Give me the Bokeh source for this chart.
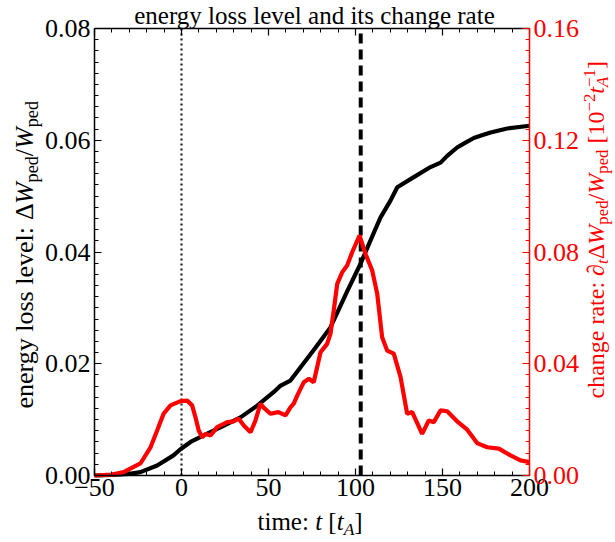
import math
from bokeh.plotting import figure
from bokeh.models import (Range1d, LinearAxis, SingleIntervalTicker,
                          CustomJSTickFormatter, Label)
from bokeh.embed import file_html
from bokeh.resources import INLINE

# ---------------- data ----------------
t_level = [-50, -40, -30, -23.6, -14, -4.6, -0.6, 5.2, 14.8, 24.1, 33.9, 43.5,
           52.9, 57, 62.6, 75.9, 85.6, 95.4, 102.9, 110.3, 114.4, 120.1, 124,
           133.5, 143.1, 148.9, 152.7, 158.4, 162.2, 168, 171.8, 177.6, 187.2, 200]
level = [0.0, 0.0001, 0.0003, 0.0006, 0.0018, 0.0036, 0.0047, 0.0060, 0.0075,
         0.0089, 0.0104, 0.0125, 0.0149, 0.0161, 0.0170, 0.0224, 0.0265, 0.0331,
         0.0379, 0.0433, 0.0462, 0.0492, 0.0516, 0.0534, 0.0552, 0.0560, 0.0572,
         0.0587, 0.0594, 0.0604, 0.0608, 0.0614, 0.0621, 0.0626]

t_rate = [-50, -40, -33.3, -23.6, -17.8, -14, -10.3, -6.3, -0.6, 3.3, 6.1, 8,
          9.9, 11.9, 13.8, 16.7, 20.5, 26.3, 30.1, 32.8, 35.8, 39.7, 42.5, 45.4,
          47.1, 51.1, 55.7, 59.8, 62.6, 64.5, 66.5, 70.3, 73.2, 76, 79.9, 83.7,
          85.6, 87.5, 89.5, 92.4, 95.2, 98.1, 102.3, 105.7, 109.6, 112.5, 115.3,
          118.2, 122, 125.9, 129.7, 132.6, 138.3, 142.1, 145, 148.9, 152.7,
          158.4, 164.2, 169.9, 175.7, 182.4, 189.1, 194.8, 200]
rate = [0.0, 0.0003, 0.0012, 0.0043, 0.0101, 0.0161, 0.0221, 0.0251, 0.0266,
        0.0268, 0.0251, 0.0209, 0.0161, 0.0137, 0.0149, 0.0143, 0.0173, 0.0191,
        0.0194, 0.0204, 0.0179, 0.0155, 0.0197, 0.0257, 0.0244, 0.0221, 0.0227,
        0.0215, 0.0244, 0.0257, 0.0286, 0.0334, 0.0346, 0.0334, 0.0441, 0.0471,
        0.0507, 0.0591, 0.0686, 0.0728, 0.0752, 0.0799, 0.0859, 0.0794, 0.0734,
        0.0650, 0.0495, 0.0447, 0.0436, 0.0352, 0.0221, 0.0227, 0.0149, 0.0197,
        0.0191, 0.0233, 0.0230, 0.0194, 0.0164, 0.0116, 0.0101, 0.0096, 0.0072,
        0.0054, 0.0048]

t_onset = 0      # dotted vertical marker
t_peak = 103     # dashed vertical marker

x_ticks_interval = 50
left_ticks_interval = 0.02
right_ticks_interval = 0.04

title_text = "energy loss level and its change rate"

# ---------------- layout constants ----------------
W, H = 615, 542
FL, FR, FT, FB = 94, 529, 28, 475          # where the axes box sits (pixels)
X0, X1 = -50, 200
Y0, Y1 = 0.0, 0.08
R0, R1 = 0.0, 0.16
FONT = "'Liberation Serif'"
BASE_FIX = 0.36   # observed baseline drop of Label text, in em


def xd(px):
    return X0 + (px - FL) / (FR - FL) * (X1 - X0)


def yd(py, lo=Y0, hi=Y1):
    return lo + (FB - py) / (FB - FT) * (hi - lo)


# the frame fills the whole canvas; axes are pinned at the box edges
p = figure(width=W, height=H,
           x_range=Range1d(xd(0), xd(W)), y_range=Range1d(yd(H), yd(0)),
           x_axis_type=None, y_axis_type=None,
           output_backend="svg", toolbar_location=None,
           min_border_left=0, min_border_right=0,
           min_border_top=0, min_border_bottom=0)
p.extra_y_ranges = {"rate": Range1d(yd(H, R0, R1), yd(0, R0, R1))}
p.outline_line_color = None

fmt2 = CustomJSTickFormatter(code="return tick.toFixed(2);")
fmtx = CustomJSTickFormatter(
    code="return tick < 0 ? '\\u2212' + Math.abs(tick).toFixed(0) : tick.toFixed(0);")
fmt_empty = CustomJSTickFormatter(code="return '';")


def style_axis(ax, color="black"):
    ax.axis_line_color = color
    ax.axis_line_width = 1.5
    ax.major_tick_line_color = color
    ax.minor_tick_line_color = color
    ax.major_tick_line_width = 1.2
    ax.minor_tick_line_width = 1
    ax.major_tick_in = 7
    ax.major_tick_out = 0
    ax.minor_tick_in = 4
    ax.minor_tick_out = 0
    ax.major_label_text_font = FONT
    ax.major_label_text_font_size = "26px"
    ax.major_label_text_color = color


xb = LinearAxis(fixed_location=Y0, bounds=(X0, X1),
                ticker=SingleIntervalTicker(interval=x_ticks_interval, num_minor_ticks=5),
                formatter=fmtx)
style_axis(xb)
xb.major_label_standoff = 3
p.add_layout(xb, "below")

xt = LinearAxis(fixed_location=Y1, bounds=(X0, X1),
                ticker=SingleIntervalTicker(interval=x_ticks_interval, num_minor_ticks=5),
                formatter=fmt_empty)
style_axis(xt)
xt.major_label_text_font_size = "1px"
p.add_layout(xt, "above")

yl = LinearAxis(fixed_location=X0, bounds=(Y0, Y1),
                ticker=SingleIntervalTicker(interval=left_ticks_interval, num_minor_ticks=10),
                formatter=fmt2)
style_axis(yl)
yl.major_label_standoff = 4
p.add_layout(yl, "left")

yr = LinearAxis(y_range_name="rate", fixed_location=X1, bounds=(R0, R1),
                ticker=SingleIntervalTicker(interval=right_ticks_interval, num_minor_ticks=10),
                formatter=fmt2)
style_axis(yr, "red")
yr.major_label_standoff = 4
p.add_layout(yr, "right")

# vertical markers, drawn between the bottom and top of the axes box
p.segment(x0=[t_onset], y0=[Y0], x1=[t_onset], y1=[Y1], line_color="#222222",
          line_width=2.2, line_dash="2 3")
p.segment(x0=[t_peak], y0=[Y0], x1=[t_peak], y1=[Y1], line_color="black",
          line_width=4, line_dash="10 6")

p.line(t_level, level, line_color="black", line_width=4.2)
p.line(t_rate, rate, y_range_name="rate", line_color="red", line_width=4.2)

# ---------------- rich text labels (screen units, origin bottom-left) ----------------
REG = {' ': 250, 'a': 444, 'b': 500, 'c': 444, 'd': 500, 'e': 444, 'f': 333,
       'g': 500, 'h': 500, 'i': 278, 'l': 278, 'm': 778, 'n': 500, 'o': 500,
       'p': 500, 'r': 333, 's': 389, 't': 278, 'v': 500, 'y': 500, ':': 278,
       '/': 278, '[': 333, ']': 333, '.': 250, 'Δ': 612, '−': 564, 'A': 722,
       'W': 944}
ITA = {'t': 278, 'W': 833, 'A': 611, '∂': 494}


def tw(s, italic, fs):
    tab = ITA if italic else REG
    return sum(tab.get(c, REG.get(c, 500)) for c in s) / 1000.0 * fs


def put(px, py, text, size, italic, color, vertical, align="left"):
    fix = BASE_FIX * size
    if vertical:
        px -= fix
        ang = math.pi / 2
    else:
        py -= fix
        ang = 0.0
    p.add_layout(Label(x=px, y=H - py, x_units="screen", y_units="screen",
                       text=text, angle=ang, text_font=FONT,
                       text_font_size=f"{size:.1f}px",
                       text_font_style="italic" if italic else "normal",
                       text_color=color, text_align=align,
                       text_baseline="alphabetic"))


def rich(parts, start, base, fs, vertical, color, sub=0.2):
    pos = start
    for text, style, kind in parts:
        small = kind in ("sub", "sub0", "sup")
        size = fs * 0.7 if small else fs
        shift = {"n": 0.0, "sub": sub * fs, "sub0": sub * fs, "sup": -0.38 * fs}[kind]
        italic = style == "italic"
        lead = len(text) - len(text.lstrip(" "))
        lead_w = tw(" " * lead, italic, size)
        w = tw(text, italic, size)
        shown = text.strip(" ")
        if vertical:
            put(base + shift, pos - lead_w, shown, size, italic, color, True)
        else:
            put(pos + lead_w, base + shift, shown, size, italic, color, False)
        if kind != "sub0":
            pos = pos - w if vertical else pos + w


bottom_parts = [("time: ", "normal", "n"), ("t", "italic", "n"), (" [", "normal", "n"),
                ("t", "italic", "n"), ("A", "italic", "sub"), ("]", "normal", "n")]
left_parts = [("energy loss level: ", "normal", "n"), ("Δ", "normal", "n"),
              ("W", "italic", "n"), ("ped", "normal", "sub"), ("/", "normal", "n"),
              ("W", "italic", "n"), ("ped", "normal", "sub")]
right_parts = [("change rate: ", "normal", "n"), ("∂", "italic", "n"),
               ("t", "italic", "sub"), ("Δ", "normal", "n"), ("W", "italic", "n"),
               ("ped", "normal", "sub"), ("/", "normal", "n"), ("W", "italic", "n"),
               ("ped", "normal", "sub"), (" [10", "normal", "n"), ("−2", "normal", "sup"),
               ("t", "italic", "n"), ("A", "italic", "sub0"), ("−1", "normal", "sup"),
               ("]", "normal", "n")]

rich(bottom_parts, 257, 530, 25, False, "black")
rich(left_parts, 408, 33, 26, True, "black")
rich(right_parts, 398, 604, 24, True, "red", sub=0.17)

put(314, 23.5, title_text, 25, False, "black", False, align="center")

open("out.html", "w").write(file_html(p, INLINE))
